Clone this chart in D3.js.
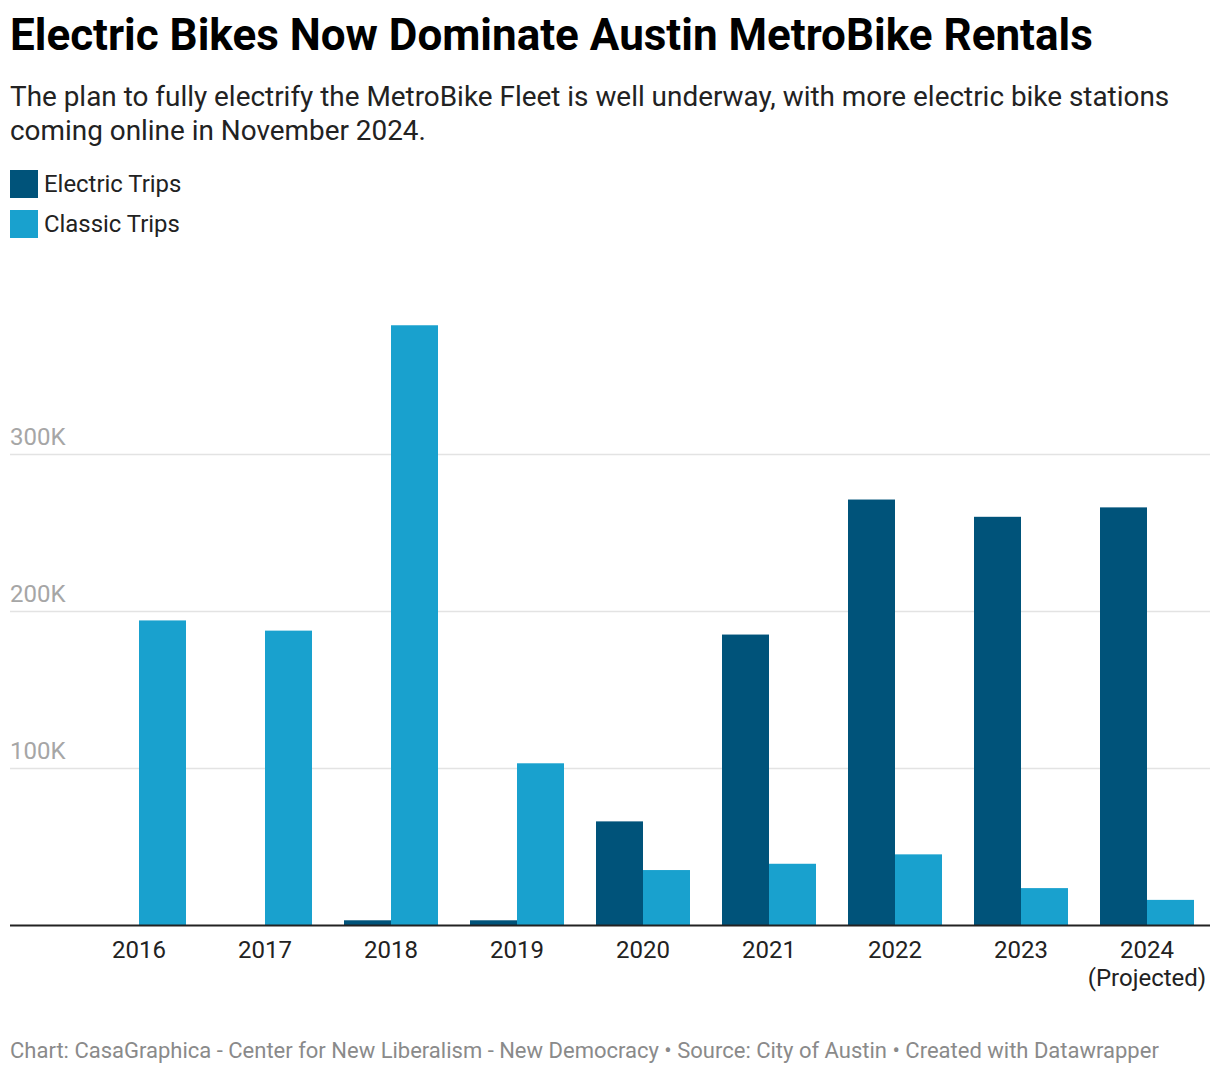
<!DOCTYPE html>
<html><head><meta charset="utf-8">
<script src="https://cdn.jsdelivr.net/npm/d3@7"></script>
<style>
html,body{margin:0;padding:0;background:#fff;}
svg{display:block;font-family:Roboto, sans-serif;}
</style></head>
<body>
<svg id="chart" width="1220" height="1074"></svg>
<script>
const categories = ["2016","2017","2018","2019","2020","2021","2022","2023","2024"];
const categoryLabels = [["2016"],["2017"],["2018"],["2019"],["2020"],["2021"],["2022"],["2023"],["2024","(Projected)"]];
const seriesNames = ["Electric Trips","Classic Trips"];
const electricTrips = [0, 0, 3000, 3000, 66000, 185000, 271000, 260000, 266000];
const classicTrips = [194000, 187500, 382000, 103000, 35000, 39000, 45000, 23500, 16000];
const yTicks = [100000, 200000, 300000];
const yTickLabels = ["100K","200K","300K"];
const colors = ["#00537a","#19a1ce"];

const svg = d3.select("#chart");

// Title & subtitle
svg.append("text").attr("x",10).attr("y",50).attr("font-size",44).attr("font-weight",700).attr("fill","#000")
  .text("Electric Bikes Now Dominate Austin MetroBike Rentals");
const sub = ["The plan to fully electrify the MetroBike Fleet is well underway, with more electric bike stations","coming online in November 2024."];
sub.forEach((s,i)=>svg.append("text").attr("x",10).attr("y",106+i*34).attr("font-size",27.9).attr("fill","#222").text(s));

// Legend
seriesNames.forEach((n,i)=>{
  const g = svg.append("g").attr("transform",`translate(10,${170+i*40})`);
  g.append("rect").attr("width",28).attr("height",28).attr("fill",colors[i]);
  g.append("text").attr("x",34).attr("y",22).attr("font-size",23.9).attr("fill","#222").text(n);
});

// Scales
const y0 = 925;
const y = d3.scaleLinear().domain([0,300000]).range([y0, y0-471]);
const x = d3.scaleBand().domain(categories).range([76,1210]).paddingInner(0.254).paddingOuter(0.127);
const xs = d3.scaleBand().domain(seriesNames).range([0,x.bandwidth()]);

// Grid
const grid = svg.append("g");
yTicks.forEach((t,i)=>{
  grid.append("line").attr("x1",10).attr("x2",1210).attr("y1",Math.round(y(t))+0.5).attr("y2",Math.round(y(t))+0.5)
    .attr("stroke","#e3e3e3").attr("stroke-width",1.5);
  grid.append("text").attr("x",10).attr("y",y(t)-9).attr("font-size",24).attr("fill","#a6a6a6").text(yTickLabels[i]);
});

// Bars
const data = categories.map((c,i)=>({c, vals:[electricTrips[i], classicTrips[i]]}));
const groups = svg.append("g").selectAll("g").data(data).join("g").attr("transform",d=>`translate(${x(d.c)},0)`);
groups.selectAll("rect").data(d=>d.vals.map((v,j)=>({v,s:seriesNames[j],j}))).join("rect")
  .attr("x",d=>xs(d.s)).attr("width",xs.bandwidth())
  .attr("y",d=>y(d.v)).attr("height",d=>y0-y(d.v)).attr("fill",d=>colors[d.j]);

// Axis line
svg.append("line").attr("x1",10).attr("x2",1210).attr("y1",y0+0.5).attr("y2",y0+0.5).attr("stroke","#222").attr("stroke-width",2);

// X labels
categories.forEach((c,i)=>{
  const t = svg.append("text").attr("x",x(c)+x.bandwidth()/2).attr("y",958).attr("text-anchor","middle").attr("font-size",24).attr("fill","#222");
  categoryLabels[i].forEach((l,k)=>t.append("tspan").attr("x",x(c)+x.bandwidth()/2).attr("dy",k?28:0).text(l));
});

// Footer
svg.append("text").attr("x",10).attr("y",1058).attr("font-size",22).attr("fill","#8a8a8a")
  .text("Chart: CasaGraphica - Center for New Liberalism - New Democracy \u2022 Source: City of Austin \u2022 Created with Datawrapper");
</script>
</body></html>
